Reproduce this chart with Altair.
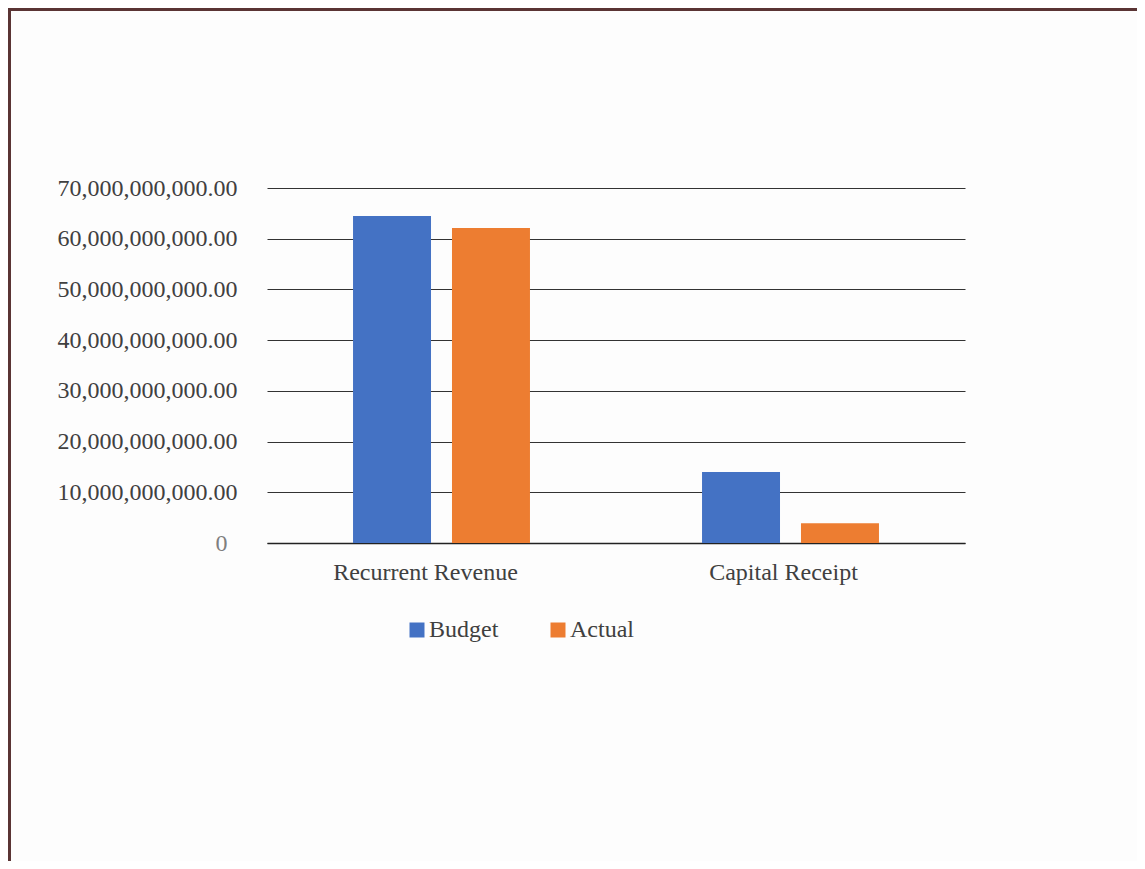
import altair as alt
import pandas as pd

categories = ["Recurrent Revenue", "Capital Receipt"]
series = ["Budget", "Actual"]
budget = [64.5e9, 14.0e9]
actual = [62.1e9, 3.9e9]
y_ticks = [0, 1e10, 2e10, 3e10, 4e10, 5e10, 6e10, 7e10]

rows = []
for i, c in enumerate(categories):
    rows.append({"category": c, "series": "Budget", "value": budget[i]})
    rows.append({"category": c, "series": "Actual", "value": actual[i]})
df = pd.DataFrame(rows)

FONT = "Liberation Serif"
TEXT = "#404040"

bars = alt.Chart(df).mark_bar().encode(
    x=alt.X("category:N", sort=categories, title=None,
            scale=alt.Scale(paddingInner=0.493, paddingOuter=0.2465),
            axis=alt.Axis(labelAngle=0, labelFont=FONT, labelFontSize=24,
                          labelColor=TEXT, ticks=False, domain=True,
                          domainColor="#222222", domainWidth=1.5,
                          labelPadding=17, labelLimit=0,
                          labelOffset=alt.condition("datum.value == 'Recurrent Revenue'", alt.value(-16), alt.value(-7)))),
    xOffset=alt.XOffset("series:N", sort=series,
                        scale=alt.Scale(paddingInner=0.212, paddingOuter=0)),
    y=alt.Y("value:Q", title=None,
            scale=alt.Scale(domain=[0, 7e10], nice=False),
            axis=alt.Axis(values=y_ticks, labelFont=FONT, labelFontSize=24,
                          labelColor=alt.condition("datum.value == 0", alt.value("#7f7f7f"), alt.value(TEXT)),
                          labelExpr="datum.value == 0 ? '0' : format(datum.value, ',.2f')",
                          ticks=False, domain=False, grid=True, labelLimit=0,
                          gridColor="#333333", gridWidth=1,
                          labelPadding=alt.condition("datum.value == 0", alt.value(40), alt.value(30)))),
    color=alt.Color("series:N", sort=series,
                    scale=alt.Scale(domain=series, range=["#4472C4", "#ED7D31"]),
                    legend=alt.Legend(title=None, orient="none", direction="horizontal",
                                      legendX=138, legendY=430, symbolType="square",
                                      symbolSize=225, symbolStrokeWidth=0,
                                      labelFont=FONT, labelFontSize=24, labelColor=TEXT,
                                      labelOffset=0, columnPadding=47)),
)

frame = pd.DataFrame({"k": [0]})
left_border = alt.Chart(frame).mark_rule(color="#5A3434", strokeWidth=3).encode(
    x=alt.value(-257.5), y=alt.value(-180), y2=alt.value(673))
top_border = alt.Chart(frame).mark_rule(color="#5A3434", strokeWidth=3).encode(
    x=alt.value(-259), x2=alt.value(870), y=alt.value(-178.5))

chart = alt.layer(bars, left_border, top_border).properties(
    width=698, height=355,
    autosize=alt.AutoSizeParams(type="none"),
    padding={"left": 259, "top": 180, "right": 172, "bottom": 318},
    background="#FDFDFD",
).configure_view(stroke=None)

chart.save("out.html", embed_options={"renderer": "svg", "actions": False})
